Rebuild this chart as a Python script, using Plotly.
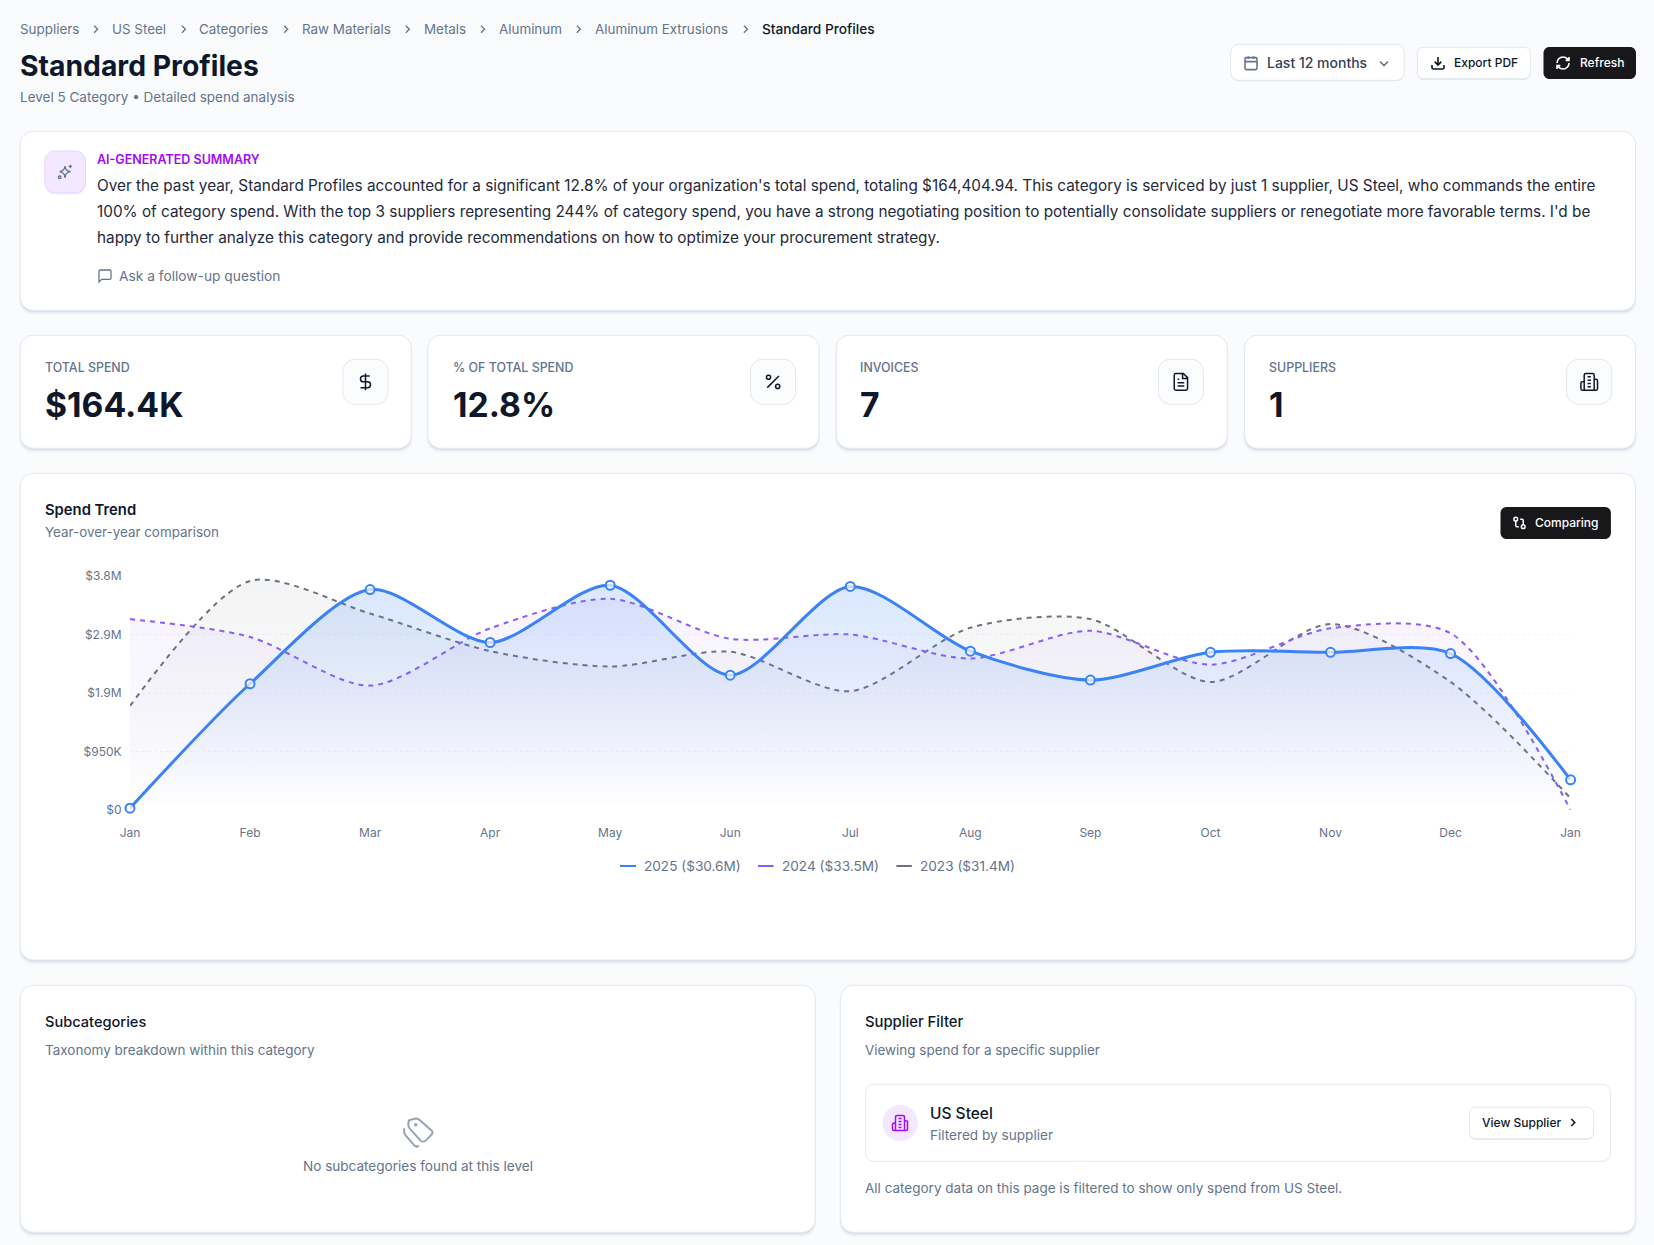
#Description: Standard Profiles spend dashboard, whole page drawn in one plotly figure
import re
import plotly.graph_objects as go

W = 1654
H = 1245

#Chart data ($M)
months = ["Jan", "Feb", "Mar", "Apr", "May", "Jun", "Jul", "Aug", "Sep", "Oct", "Nov", "Dec", "Jan"]
spend_2025 = [0.03, 2.05, 3.58, 2.72, 3.65, 2.19, 3.63, 2.58, 2.11, 2.56, 2.56, 2.54, 0.49]
spend_2024 = [3.10, 2.81, 2.02, 2.95, 3.43, 2.78, 2.85, 2.46, 2.91, 2.36, 2.95, 2.87, 0.0]
spend_2023 = [1.69, 3.72, 3.19, 2.58, 2.33, 2.57, 1.93, 2.96, 3.10, 2.08, 3.02, 2.08, 0.19]
y_ticks = [0, 0.95, 1.9, 2.85, 3.8]
y_tick_labels = ["$0", "$950K", "$1.9M", "$2.9M", "$3.8M"]

legend_labels = ["2025 ($30.6M)", "2024 ($33.5M)", "2023 ($31.4M)"]

breadcrumbs = ["Suppliers", "US Steel", "Categories", "Raw Materials", "Metals", "Aluminum", "Aluminum Extrusions", "Standard Profiles"]
summary_lines = [
    "Over the past year, Standard Profiles accounted for a significant 12.8% of your organization's total spend, totaling $164,404.94. This category is serviced by just 1 supplier, US Steel, who commands the entire",
    "100% of category spend. With the top 3 suppliers representing 244% of category spend, you have a strong negotiating position to potentially consolidate suppliers or renegotiate more favorable terms. I'd be",
    "happy to further analyze this category and provide recommendations on how to optimize your procurement strategy.",
]
kpi_labels = ["TOTAL SPEND", "% OF TOTAL SPEND", "INVOICES", "SUPPLIERS"]
kpi_values = ["$164.4K", "12.8%", "7", "1"]

#Colors
BG = "#fafbfd"
BORDER = "#e2e8f0"
DARK = "#0f172a"
MUTED = "#64748b"
BLACK = "#18181b"
PURPLE = "#a20bf5"
BLUE = "#3b82f6"
VIOLET = "#8b5cf6"
GRAY = "#6b7280"
FONT = "Inter"

shapes = []
annotations = []


def fx(x):
    return round(x / W, 6)


def fy(y):
    return round(1 - y / H, 6)


def rrect_path(x0, y0, x1, y1, r):
    k = r * 0.45
    pts = [
        ("M", x0 + r, y0), ("L", x1 - r, y0),
        ("C", x1 - k, y0), ("", x1, y0 + k), ("", x1, y0 + r),
        ("L", x1, y1 - r),
        ("C", x1, y1 - k), ("", x1 - k, y1), ("", x1 - r, y1),
        ("L", x0 + r, y1),
        ("C", x0 + k, y1), ("", x0, y1 - k), ("", x0, y1 - r),
        ("L", x0, y0 + r),
        ("C", x0, y0 + k), ("", x0 + k, y0), ("", x0 + r, y0),
    ]
    return " ".join(f"{c}{fx(a)},{fy(b)}" for c, a, b in pts) + " Z"


def box(x0, y0, x1, y1, r, fill, line=None, width=1):
    shapes.append(dict(type="path", xref="paper", yref="paper", layer="below", path=rrect_path(x0, y0, x1, y1, r),
                       fillcolor=fill, line=dict(color=line if line else "rgba(0,0,0,0)", width=width if line else 0)))


def card(x0, y0, x1, y1, r=13, shadow=True):
    #soft shadow under the card
    if shadow:
        box(x0 - 1, y0 + 3, x1 + 1, y1 + 4, r, "rgba(148,163,184,0.10)")
        box(x0, y0 + 2, x1, y1 + 2, r, "rgba(148,163,184,0.22)")
    box(x0, y0, x1, y1, r, "#ffffff", BORDER, 1)


def label(x, y, text, size=13.4, color=MUTED, weight=400, anchor="left"):
    #annotations sit a touch right of the given x
    if anchor == "left":
        x = x - 1.3
    annotations.append(dict(xref="paper", yref="paper", x=fx(x), y=fy(y), text=text, showarrow=False, xanchor=anchor,
                            yanchor="middle", borderpad=0, font=dict(family=FONT, size=size, color=color, weight=weight)))


def circ(cx, cy, r):
    k = r * 0.55
    return (f"M{cx + r},{cy} C{cx + r},{cy + k} {cx + k},{cy + r} {cx},{cy + r} "
            f"C{cx - k},{cy + r} {cx - r},{cy + k} {cx - r},{cy} "
            f"C{cx - r},{cy - k} {cx - k},{cy - r} {cx},{cy - r} "
            f"C{cx + k},{cy - r} {cx + r},{cy - k} {cx + r},{cy} Z")


#Icons on a 24x24 grid, absolute commands only
ICONS = {
    "calendar": "M5,4 L19,4 C20,4 21,5 21,6 L21,20 C21,21 20,22 19,22 L5,22 C4,22 3,21 3,20 L3,6 C3,5 4,4 5,4 Z M3,10 L21,10 M8,2 L8,6 M16,2 L16,6",
    "chevron_down": "M6,9 L12,15 L18,9",
    "chevron_right": "M9,6 L15,12 L9,18",
    "download": "M21,15 L21,19 C21,20 20,21 19,21 L5,21 C4,21 3,20 3,19 L3,15 M7,10 L12,15 L17,10 M12,15 L12,3",
    "refresh": "M3,12 C3,7 7,3 12,3 C14.5,3 16.9,4 18.7,5.7 L21,8 M21,3 L21,8 L16,8 M21,12 C21,17 17,21 12,21 C9.5,21 7.1,20 5.3,18.3 L3,16 M8,16 L3,16 L3,21",
    "sparkles": "M12,3 C12.8,8 14,10 20,11.5 C14,13 12.8,15 12,21 C11.2,15 10,13 4,11.5 C10,10 11.2,8 12,3 Z M20,1 L20,6 M17.5,3.5 L22.5,3.5 " + circ(4, 20, 2),
    "message": "M21,15 C21,16 20,17 19,17 L7,17 L3,21 L3,5 C3,4 4,3 5,3 L19,3 C20,3 21,4 21,5 Z",
    "dollar": "M12,2 L12,22 M17,5 L9.5,5 C7.6,5 6,6.6 6,8.5 C6,10.4 7.6,12 9.5,12 L14.5,12 C16.4,12 18,13.6 18,15.5 C18,17.4 16.4,19 14.5,19 L6,19",
    "percent": "M19,5 L5,19 " + circ(6.5, 6.5, 2.5) + " " + circ(17.5, 17.5, 2.5),
    "file": "M15,2 L6,2 C5,2 4,3 4,4 L4,20 C4,21 5,22 6,22 L18,22 C19,22 20,21 20,20 L20,7 Z M14,2 L14,8 L20,8 M16,13 L8,13 M16,17 L8,17 M10,9 L8,9",
    "building": "M6,22 L6,4 C6,3 7,2 8,2 L16,2 C17,2 18,3 18,4 L18,22 Z M6,12 L4,12 C3,12 2,13 2,14 L2,20 C2,21 3,22 4,22 L6,22 M18,9 L20,9 C21,9 22,10 22,11 L22,20 C22,21 21,22 20,22 L18,22 M10,6 L14,6 M10,10 L14,10 M10,14 L14,14 M10,18 L14,18",
    "compare": circ(18, 18, 3) + " " + circ(6, 6, 3) + " M13,6 L16,6 C17,6 18,7 18,8 L18,15 M11,18 L8,18 C7,18 6,17 6,16 L6,9",
    "tags": "M4,5 C4,3 5,2 6,2 L10,1 C11,1 12,1 13,2 L22,10 C24,11 24,13 23,14 L18,19 C17,20 15,20 14,19 L5,9 C4,8 4,7 4,5 Z " + circ(10, 6, 0.6) + " M1,9 C0,11 0.5,13 2,15 L9,23 C10,24 11.5,24 12.5,23",
}


def icon(name, x0, y0, size, color, width=1.6):
    scale = size / 24

    def convert(m):
        return f"{fx(x0 + float(m.group(1)) * scale)},{fy(y0 + float(m.group(2)) * scale)}"

    path = re.sub(r"(-?[\d.]+),(-?[\d.]+)", convert, ICONS[name])
    shapes.append(dict(type="path", xref="paper", yref="paper", layer="below", path=path, fillcolor="rgba(0,0,0,0)",
                       line=dict(color=color, width=width)))


#Header
crumb_x = [20.7, 112.5, 199.8, 302.5, 424.2, 499.4, 595.3, 762.3]
chevron_x = [95.9, 183.7, 285.9, 407.6, 482.8, 578.6, 745.7]
for i, name in enumerate(breadcrumbs):
    last = i == len(breadcrumbs) - 1
    label(crumb_x[i], 29.3, name, 13.7 if last else 13.4, DARK if last else MUTED, 500 if last else 400)
for x in chevron_x:
    icon("chevron_right", x - 7, 22.3, 14, MUTED, 1.3)

label(20.7, 65.7, "Standard Profiles", 28.3, DARK, 700)
label(20.7, 97.3, "Level 5 Category • Detailed spend analysis", 13.5)

box(1230.7, 44.3, 1404.2, 81.3, 8, "rgba(148,163,184,0.25)")
box(1230.7, 44.3, 1404.2, 80.3, 8, "#ffffff", BORDER)
icon("calendar", 1243, 55, 16, MUTED)
label(1267.8, 63, "Last 12 months", 14, "#334155", 500)
icon("chevron_down", 1376, 55.5, 16, MUTED)

box(1417.3, 47.3, 1530.4, 79.7, 6, "rgba(148,163,184,0.25)")
box(1417.3, 47.3, 1530.4, 78.7, 6, "#ffffff", BORDER)
icon("download", 1430, 55, 16, DARK)
label(1454, 62.7, "Export PDF", 12, DARK, 500)

box(1543.5, 47, 1636, 79, 6, BLACK)
icon("refresh", 1555, 55, 16, "#ffffff")
label(1580, 62.7, "Refresh", 12, "#ffffff", 500)

#AI summary card
card(20.2, 131.3, 1635.5, 310.3)
box(45, 153, 85.5, 194.5, 10, "rgba(148,163,184,0.18)")
box(44.8, 151, 85.5, 192.7, 10, "#f3e8ff", "#e9d5ff")
icon("sparkles", 57, 164, 16, MUTED, 1.3)
label(97.6, 159.7, "AI-GENERATED SUMMARY", 12.5, PURPLE, 600)
for i, line in enumerate(summary_lines):
    label(97.6, 185.3 + 26 * i, line, 15.32, "#1e293b")
icon("message", 97, 268, 16, MUTED, 1.3)
label(119.4, 276.3, "Ask a follow-up question", 13.75, MUTED, 400)

#KPI cards
kpi_left = [20.2, 427.8, 836.3, 1244.5]
kpi_right = [411.3, 819, 1227.3, 1635.5]
kpi_text_x = [45.5, 453.1, 860.6, 1269.3]
kpi_icon_left = [343, 750.6, 1158.4, 1566.7]
kpi_icons = ["dollar", "percent", "file", "building"]
for i in range(4):
    card(kpi_left[i], 335.3, kpi_right[i], 448.3)
    label(kpi_text_x[i], 367.7, kpi_labels[i], 12.4, MUTED, 500)
    label(kpi_text_x[i], 405, kpi_values[i], 33.7, DARK, 700)
    box(kpi_icon_left[i], 359.3, kpi_icon_left[i] + 45, 404.3, 12, "#fbfcfe", BORDER)
    icon(kpi_icons[i], kpi_icon_left[i] + 12.5, 371.8, 20, DARK, 1.5)

#Spend trend card
card(20.2, 473.3, 1635.5, 960)
label(45.5, 510.3, "Spend Trend", 14.8, DARK, 600)
label(45.5, 532.3, "Year-over-year comparison", 13.4)
box(1500.5, 507, 1610.9, 539, 6, BLACK)
icon("compare", 1512, 515.5, 15, "#ffffff", 1.5)
label(1535.7, 522.7, "Comparing", 12, "#ffffff", 500)

#Legend drawn by hand since the real lines are dashed and the swatches are solid
legend_swatch = [(620, 636), (758, 773.6), (896.4, 911.8)]
legend_text_x = [644.6, 782.5, 920.4]
legend_colors = [BLUE, VIOLET, GRAY]
for i in range(3):
    shapes.append(dict(type="line", xref="paper", yref="paper", layer="below", x0=fx(legend_swatch[i][0]), x1=fx(legend_swatch[i][1]),
                       y0=fy(866), y1=fy(866), line=dict(color=legend_colors[i], width=2)))
    label(legend_text_x[i], 866, legend_labels[i], 13.6, MUTED)

#Subcategories card
card(20.2, 985.3, 815.2, 1232.3)
label(45.5, 1022.3, "Subcategories", 14.6, DARK, 500)
label(45.5, 1050.3, "Taxonomy breakdown within this category", 13.5)
icon("tags", 403.4, 1117.3, 29.5, "#94a3b8", 2)
label(418, 1166.3, "No subcategories found at this level", 13.55, MUTED, 400, "center")

#Supplier filter card
card(840.5, 985.3, 1635.6, 1232.3)
label(865.7, 1022.3, "Supplier Filter", 14.8, DARK, 500)
label(865.7, 1050.3, "Viewing spend for a specific supplier", 13.45)
box(865.7, 1084.3, 1610.4, 1161.3, 8, "#ffffff", BORDER)
box(882.5, 1105, 917.8, 1141, 17.6, "#f3e8ff")
icon("building", 891, 1114, 18, PURPLE, 1.5)
label(930.4, 1113.3, "US Steel", 15.5, DARK, 500)
label(930.4, 1135.3, "Filtered by supplier", 13.6)
box(1469.5, 1107.3, 1593.5, 1139.7, 6, "rgba(148,163,184,0.25)")
box(1469.5, 1107.3, 1593.5, 1138.7, 6, "#ffffff", BORDER)
label(1482, 1122.7, "View Supplier", 12, DARK, 500)
icon("chevron_right", 1566, 1115.5, 14, DARK, 1.6)
label(865.7, 1188.3, "All category data on this page is filtered to show only spend from US Steel.", 13.5)

#Chart traces
x_idx = list(range(len(months)))


def gradient(rgb, top):
    return dict(type="vertical", start=0, stop=3.8,
                colorscale=[[0, f"rgba({rgb},0)"], [1, f"rgba({rgb},{top})"]])


fig = go.Figure()
fig.add_trace(go.Scatter(
    x=x_idx, y=spend_2023, mode="lines", fill="tozeroy", fillgradient=gradient("107,114,128", 0.08),
    line=dict(color=GRAY, width=2, dash="5px,5px", shape="spline", smoothing=0.8), showlegend=False, name="2023"))
fig.add_trace(go.Scatter(
    x=x_idx, y=spend_2024, mode="lines", fill="tozeroy", fillgradient=gradient("139,92,246", 0.08),
    line=dict(color=VIOLET, width=2, dash="5px,5px", shape="spline", smoothing=0.8), showlegend=False, name="2024"))
fig.add_trace(go.Scatter(
    x=x_idx, y=spend_2025, mode="lines+markers", fill="tozeroy", fillgradient=gradient("59,130,246", 0.2),
    line=dict(color=BLUE, width=3, shape="spline", smoothing=0.8),
    marker=dict(size=9, color="rgba(255,255,255,0.7)", line=dict(color=BLUE, width=2)),
    cliponaxis=False, showlegend=False, name="2025"))

fig.update_layout(
    width=W,
    height=H,
    autosize=False,
    margin=dict(l=0, r=0, t=0, b=0, pad=0),
    paper_bgcolor=BG,
    plot_bgcolor="rgba(0,0,0,0)",
    shapes=shapes,
    annotations=annotations,
    font=dict(family=FONT),
    xaxis=dict(
        domain=[fx(130), fx(1570.6)], range=[0, 12], tickvals=x_idx, ticktext=months, automargin=False,
        showgrid=False, zeroline=False, showline=False, ticks="outside", ticklen=12, tickcolor="rgba(0,0,0,0)",
        tickfont=dict(family=FONT, size=12, color=MUTED),
    ),
    yaxis=dict(
        domain=[fy(810), fy(576)], range=[0, 3.8], tickvals=y_ticks, ticktext=y_tick_labels, automargin=False,
        showgrid=True, gridcolor="#f3f5f8", griddash="dot", zeroline=False, showline=False,
        ticks="outside", ticklen=5, tickcolor="rgba(0,0,0,0)",
        tickfont=dict(family=FONT, size=12, color=MUTED),
    ),
)

fig.write_html("out.html", config=dict(displayModeBar=False),
               post_script="document.body.style.margin='0';document.body.style.background='%s';" % BG)
